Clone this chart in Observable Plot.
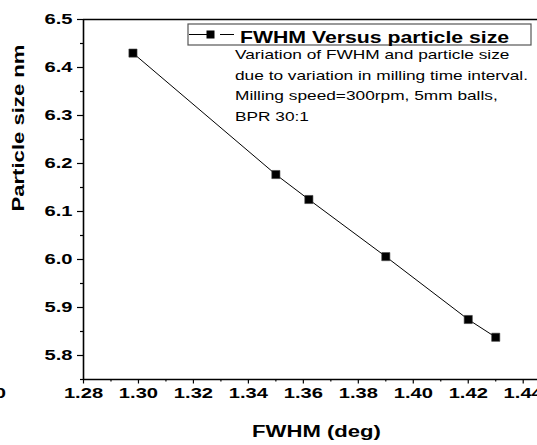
<!DOCTYPE html>
<html><head><meta charset="utf-8">
<script src="https://cdn.jsdelivr.net/npm/d3@7"></script>
<script src="https://cdn.jsdelivr.net/npm/@observablehq/plot@0.6"></script>
<style>
html,body{margin:0;padding:0;background:#fff;overflow:hidden}
</style></head><body><div id="chart"></div>
<script>
const fwhm = [1.298, 1.350, 1.362, 1.390, 1.420, 1.430];
const particleSize = [6.430, 6.177, 6.125, 6.006, 5.875, 5.838];
const xTicks = [1.28, 1.30, 1.32, 1.34, 1.36, 1.38, 1.40, 1.42, 1.44];
const xMinor = [1.29, 1.31, 1.33, 1.35, 1.37, 1.39, 1.41, 1.43];
const yTicks = [5.8, 5.9, 6.0, 6.1, 6.2, 6.3, 6.4, 6.5];
const yMinor = [5.75, 5.85, 5.95, 6.05, 6.15, 6.25, 6.35, 6.45];
const xDomain = [1.28, 1.4452];
const yDomain = [5.75, 6.5];
const xLabel = "FWHM (deg)";
const yLabel = "Particle size nm";
const seriesLabel = "FWHM Versus particle size";
const noteLines = [
  "Variation of FWHM and particle size",
  "due to variation in milling time interval.",
  "Milling speed=300rpm, 5mm balls,",
  "BPR 30:1"
];
const strayLabel = "0";

const points = fwhm.map((x, i) => ({fwhm: x, size: particleSize[i]}));
const FONT = "Arial, 'Liberation Sans', sans-serif";

const chart = Plot.plot({
  width: 537, height: 445,
  marginLeft: 83, marginRight: 0, marginTop: 19, marginBottom: 66,
  x: {domain: xDomain, label: null},
  y: {domain: yDomain, label: null},
  style: {fontFamily: FONT, fontSize: "15.5px", fontWeight: "bold", color: "black", background: "white", overflow: "hidden"},
  marks: [
    Plot.ruleY([yDomain[1]], {stroke: "black", strokeWidth: 1.5}),
    Plot.axisX(xTicks, {label: null, tickSize: 4.5, tickPadding: 2.5, tickFormat: d => d.toFixed(2), strokeWidth: 1.2}),
    Plot.axisX(xMinor, {label: null, tickSize: 2.5, tickFormat: () => "", strokeWidth: 1.2}),
    Plot.axisY(yTicks, {label: null, tickSize: 6, tickPadding: 5, tickFormat: d => d.toFixed(1), strokeWidth: 1.2}),
    Plot.axisY(yMinor, {label: null, tickSize: 3, tickFormat: () => "", strokeWidth: 1.2}),
    Plot.ruleX([xDomain[0]], {stroke: "black", strokeWidth: 1.6}),
    Plot.ruleY([yDomain[0]], {stroke: "black", strokeWidth: 1.6}),
    Plot.line(points, {x: "fwhm", y: "size", stroke: "black", strokeWidth: 1}),
    Plot.dot(points, {x: "fwhm", y: "size", symbol: "square", r: 4.6, fill: "black", stroke: "#444", strokeWidth: 0.6}),
    Plot.text([xLabel], {frameAnchor: "bottom", dx: 6, dy: 57, fontSize: 17, fontWeight: "bold"}),
    Plot.text([yLabel], {frameAnchor: "left", rotate: -90, dx: -65, dy: 12, fontSize: 17, fontWeight: "bold"}),
    Plot.text([strayLabel], {frameAnchor: "bottom-left", textAnchor: "end", lineAnchor: "top", dx: -77.5, dy: 7.5, fontSize: 15.5, fontWeight: "bold"})
  ]
});
document.getElementById("chart").appendChild(chart);

// legend + notes
const svg = d3.select(chart);
const g = svg.append("g").attr("font-family", FONT).attr("text-anchor", "start");
g.append("rect").attr("x", 188).attr("y", 24).attr("width", 343).attr("height", 21)
  .attr("fill", "white").attr("stroke", "#555").attr("stroke-width", 1.2);
g.append("line").attr("x1", 189).attr("x2", 208).attr("y1", 34.5).attr("y2", 34.5).attr("stroke", "black");
g.append("line").attr("x1", 220).attr("x2", 234).attr("y1", 34.5).attr("y2", 34.5).attr("stroke", "black");
g.append("rect").attr("x", 206.5).attr("y", 30.5).attr("width", 8).attr("height", 8).attr("fill", "black");
g.append("text").attr("class", "lg").attr("transform", "translate(240,42.5)").attr("font-size", 17).attr("font-weight", "bold").attr("fill", "black").text(seriesLabel);
const baselines = [59.3, 79.6, 100, 121];
noteLines.forEach((t, i) => {
  g.append("text").attr("class", "note").attr("transform", `translate(235,${baselines[i]})`).attr("font-size", 13.2).attr("font-weight", "normal").attr("fill", "black").text(t);
});

// horizontal stretch of glyphs as in the source rendering
svg.selectAll("text").each(function() {
  const el = this;
  const S = el.classList.contains("note") ? 1.31 : el.classList.contains("lg") ? 1.25 : 1.3;
  let tr = el.getAttribute("transform") || "";
  const x = el.getAttribute("x");
  if (x !== null && isFinite(+x) && +x !== 0) {
    tr += ` translate(${+x},0)`;
    el.setAttribute("x", 0);
  }
  el.setAttribute("transform", tr + ` scale(${S},1)`);
});
</script></body></html>
